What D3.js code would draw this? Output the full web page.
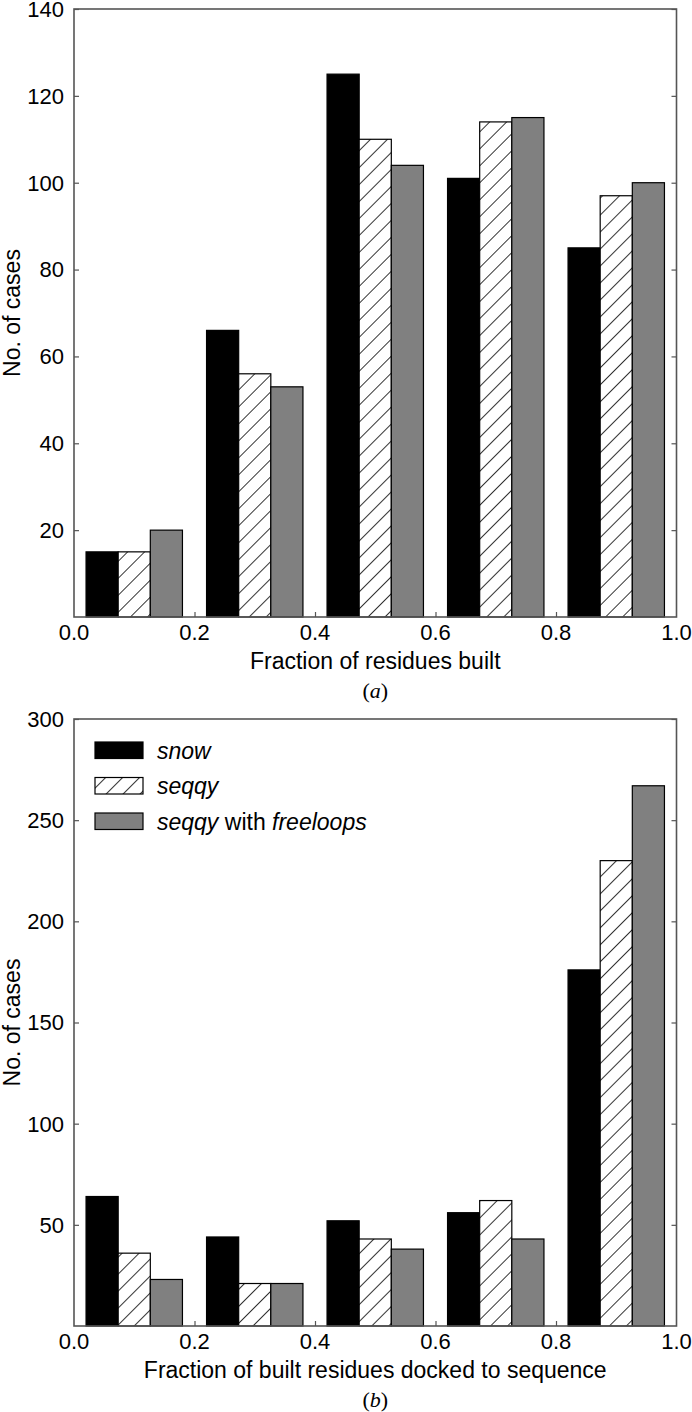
<!DOCTYPE html>
<html>
<head>
<meta charset="utf-8">
<script src="https://cdn.jsdelivr.net/npm/d3@7"></script>
<style>
  html, body { margin: 0; padding: 0; background: #fff; }
  svg { display: block; }
  text { font-family: "Liberation Sans", Arial, sans-serif; }
</style>
</head>
<body>
<svg id="chart" width="692" height="1412"></svg>
<script>
// ---- Data ----
const binCenters = [0.1, 0.3, 0.5, 0.7, 0.9];
const seriesNames = ["snow", "seqqy", "seqqy with freeloops"];

const builtSnow = [15, 66, 125, 101, 85];
const builtSeqqy = [15, 56, 110, 114, 97];
const builtFreeloops = [20, 53, 104, 115, 100];

const dockedSnow = [64, 44, 52, 56, 176];
const dockedSeqqy = [36, 21, 43, 62, 230];
const dockedFreeloops = [23, 21, 38, 43, 267];

const xTicks = [0.0, 0.2, 0.4, 0.6, 0.8, 1.0];
const yTicksA = [20, 40, 60, 80, 100, 120, 140];
const yTicksB = [50, 100, 150, 200, 250, 300];

// ---- Drawing ----
const svg = d3.select("#chart");
const defs = svg.append("defs");
const pat = defs.append("pattern")
  .attr("id", "hatch")
  .attr("patternUnits", "userSpaceOnUse")
  .attr("width", 12).attr("height", 12)
  .attr("patternTransform", "rotate(45)");
pat.append("rect").attr("width", 12).attr("height", 12).attr("fill", "#fff");
pat.append("line").attr("x1", 0).attr("y1", 0).attr("x2", 0).attr("y2", 12)
  .attr("stroke", "#000").attr("stroke-width", 1.6);

const fills = ["#000000", "url(#hatch)", "#808080"];
const frameColor = "#555";
const tickFont = 22, titleFont = 23;

function panel(opts) {
  const { top, bottom, yMax, yTicks, series, xTitle, caption, legend } = opts;
  const left = 74, right = 676.5;
  const x = d3.scaleLinear().domain([0, 1]).range([left, right]);
  const y = d3.scaleLinear().domain([0, yMax]).range([bottom, top]);
  const g = svg.append("g");

  const groupWidth = 0.16;
  const barW = groupWidth / 3;

  series.forEach((vals, si) => {
    g.selectAll(null).data(vals).enter().append("rect")
      .attr("x", (d, i) => x(binCenters[i] - groupWidth / 2 + si * barW))
      .attr("width", x(barW) - x(0))
      .attr("y", d => y(d))
      .attr("height", d => y(0) - y(d))
      .attr("fill", fills[si])
      .attr("stroke", "#000")
      .attr("stroke-width", 1.2);
  });

  // frame
  g.append("rect")
    .attr("x", left).attr("y", top)
    .attr("width", right - left).attr("height", bottom - top)
    .attr("fill", "none").attr("stroke", frameColor).attr("stroke-width", 1.6);

  // left / right axes (inward ticks)
  const yAxisL = d3.axisRight(y).tickValues(yTicks).tickSize(5).tickFormat("");
  g.append("g").attr("transform", `translate(${left},0)`).call(yAxisL)
    .call(s => s.select(".domain").remove())
    .call(s => s.selectAll(".tick line").attr("stroke", frameColor).attr("stroke-width", 1.2));
  const yAxisR = d3.axisLeft(y).tickValues(yTicks).tickSize(5).tickFormat("");
  g.append("g").attr("transform", `translate(${right},0)`).call(yAxisR)
    .call(s => s.select(".domain").remove())
    .call(s => s.selectAll(".tick line").attr("stroke", frameColor).attr("stroke-width", 1.2));
  // y labels
  g.selectAll(null).data(yTicks).enter().append("text")
    .attr("x", left - 10).attr("y", d => y(d))
    .attr("dy", "0.36em").attr("text-anchor", "end")
    .attr("font-size", tickFont).attr("fill", "#000")
    .text(d => d);

  // bottom axis inward ticks
  const xAxis = d3.axisTop(x).tickValues(xTicks.slice(1, -1)).tickSize(5).tickFormat("");
  g.append("g").attr("transform", `translate(0,${bottom})`).call(xAxis)
    .call(s => s.select(".domain").remove())
    .call(s => s.selectAll(".tick line").attr("stroke", frameColor).attr("stroke-width", 1.2));
  g.selectAll(null).data(xTicks).enter().append("text")
    .attr("x", d => x(d)).attr("y", bottom + 15)
    .attr("dy", "0.36em").attr("text-anchor", "middle")
    .attr("font-size", tickFont).attr("fill", "#000")
    .text(d => d.toFixed(1));

  // titles
  g.append("text")
    .attr("x", (left + right) / 2).attr("y", bottom + 44)
    .attr("dy", "0.36em").attr("text-anchor", "middle")
    .attr("font-size", titleFont).text(xTitle);
  g.append("text")
    .attr("transform", `translate(12,${(top + bottom) / 2}) rotate(-90)`)
    .attr("dy", "0.36em").attr("text-anchor", "middle")
    .attr("font-size", titleFont).text("No. of cases");

  // caption
  const cap = g.append("text")
    .attr("x", (left + right) / 2).attr("y", bottom + 73)
    .attr("dy", "0.36em").attr("text-anchor", "middle")
    .attr("font-size", 22)
    .style("font-family", "'Liberation Serif', 'Times New Roman', serif");
  cap.append("tspan").text("(");
  cap.append("tspan").attr("font-style", "italic").text(caption);
  cap.append("tspan").text(")");

  if (legend) {
    const lx = 95, ly0 = 742, dyL = 35.5;
    const labels = [
      [["snow", true]],
      [["seqqy", true]],
      [["seqqy", true], [" with ", false], ["freeloops", true]]
    ];
    labels.forEach((parts, i) => {
      const yy = ly0 + i * dyL;
      g.append("rect").attr("x", lx).attr("y", yy).attr("width", 48).attr("height", 16.5)
        .attr("fill", fills[i]).attr("stroke", "#000").attr("stroke-width", 1.2);
      const t = g.append("text").attr("x", 157).attr("y", yy + 8.5)
        .attr("dy", "0.36em").attr("font-size", titleFont);
      parts.forEach(([s, it]) => {
        t.append("tspan").attr("font-style", it ? "italic" : "normal").text(s);
      });
    });
  }
}

panel({
  top: 9, bottom: 617, yMax: 140, yTicks: yTicksA,
  series: [builtSnow, builtSeqqy, builtFreeloops],
  xTitle: "Fraction of residues built", caption: "a", legend: false
});
panel({
  top: 719, bottom: 1326, yMax: 300, yTicks: yTicksB,
  series: [dockedSnow, dockedSeqqy, dockedFreeloops],
  xTitle: "Fraction of built residues docked to sequence", caption: "b", legend: true
});
</script>
</body>
</html>
